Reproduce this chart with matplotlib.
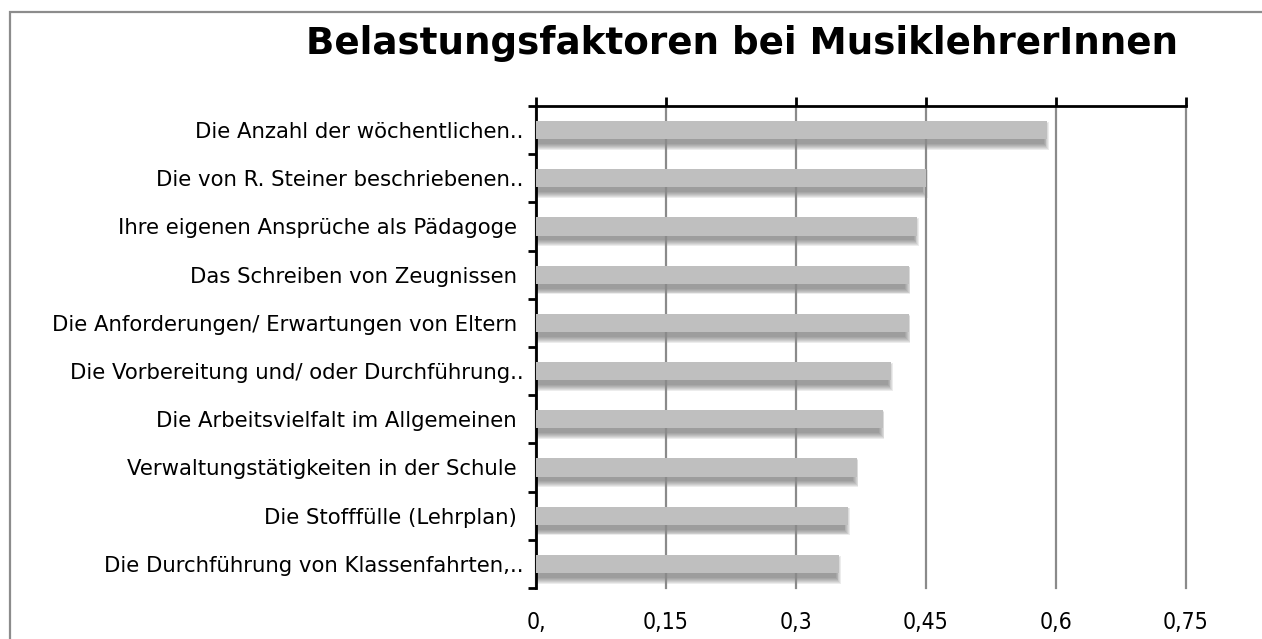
import matplotlib
matplotlib.use("Agg")
import matplotlib.pyplot as plt
from matplotlib.patches import Rectangle
import numpy as np

title = "Belastungsfaktoren bei MusiklehrerInnen"
categories = [
    "Die Anzahl der wöchentlichen..",
    "Die von R. Steiner beschriebenen..",
    "Ihre eigenen Ansprüche als Pädagoge ",
    "Das Schreiben von Zeugnissen ",
    "Die Anforderungen/ Erwartungen von Eltern ",
    "Die Vorbereitung und/ oder Durchführung..",
    "Die Arbeitsvielfalt im Allgemeinen ",
    "Verwaltungstätigkeiten in der Schule ",
    "Die Stofffülle (Lehrplan) ",
    "Die Durchführung von Klassenfahrten,..",
]
values = [0.59, 0.45, 0.44, 0.43, 0.43, 0.41, 0.40, 0.37, 0.36, 0.35]
xticks = [0, 0.15, 0.3, 0.45, 0.6, 0.75]
xtick_labels = ["0,", "0,15", "0,3", "0,45", "0,6", "0,75"]

W, H = 1262, 639
fig = plt.figure(figsize=(W / 100, H / 100), dpi=100)
fig.patch.set_facecolor("white")

# figure border (only left and top edges visible)
fig.patches.append(Rectangle((10 / W, -0.1), 1.2, 1 - 12 / H + 0.1,
                             transform=fig.transFigure, fill=False,
                             edgecolor="#8c8c8c", linewidth=1.6, clip_on=False))

ax = fig.add_axes([536 / W, 1 - 588 / H, (1186 - 536) / W, (588 - 106) / H])
ypos = np.arange(len(categories))
vals = np.array(values)
bh = 0.38

# blurred drop shadow (offset downwards)
for k in range(7):
    ax.barh(ypos + 0.12, vals - 0.004 + k * 0.001, height=bh - 0.04 + k * 0.04,
            color="#4a4a4a", alpha=0.10, linewidth=0, zorder=0.3)
ax.barh(ypos, vals, height=bh, color="#bfbfbf", linewidth=0, zorder=3)

ax.set_xlim(0, 0.75)
ax.set_ylim(len(categories) - 0.5, -0.5)

ax.set_xticks(xticks)
ax.set_xticklabels(xtick_labels, fontsize=16.5, family="DejaVu Sans",
                   fontstretch="condensed")
ax.tick_params(axis="x", top=True, bottom=False, labeltop=False, labelbottom=True,
               direction="out", length=6.5, width=2, color="black", pad=10)
ax.xaxis.grid(True, color="#8a8a8a", linewidth=1.6)
ax.set_axisbelow(True)
for gl in ax.get_xgridlines():
    gl.set_clip_on(False)
    gl.set_zorder(1)

ax.set_yticks(ypos)
ax.set_yticklabels(categories, fontsize=15.3, family="DejaVu Sans")
ax.set_yticks(np.arange(len(categories) + 1) - 0.5, minor=True)
ax.tick_params(axis="y", which="major", length=0, pad=9)
ax.tick_params(axis="y", which="minor", length=5.5, width=2, direction="out", color="black")

for s in ["right", "bottom"]:
    ax.spines[s].set_visible(False)
ax.spines["top"].set_linewidth(2)
ax.spines["left"].set_linewidth(2)

fig.text(742 / W, 1 - 43 / H, title, ha="center", va="center",
         fontsize=26.8, fontweight="bold", family="DejaVu Sans")

fig.savefig("out.png", dpi=100)
